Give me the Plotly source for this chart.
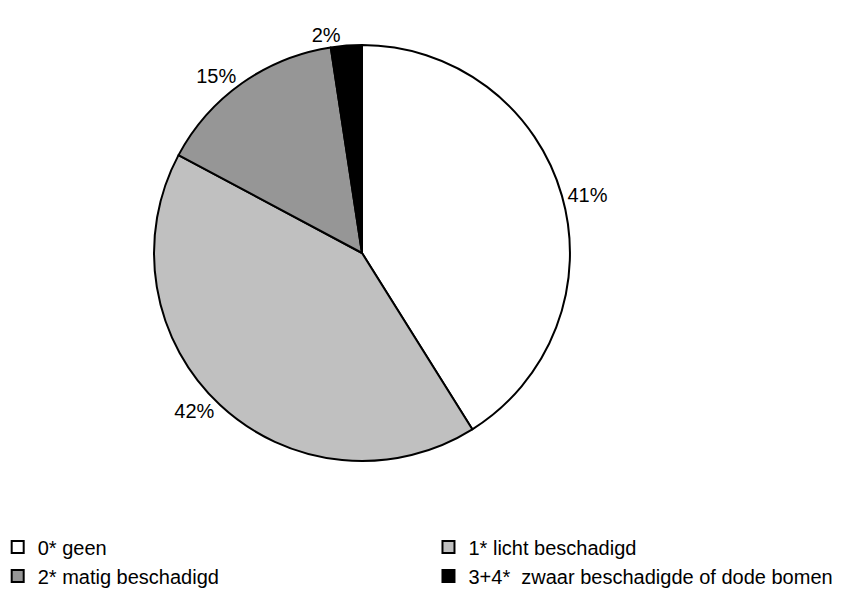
import plotly.graph_objects as go

# damage classes and their shares (%)
labels = ["0* geen", "1* licht beschadigd", "2* matig beschadigd", "3+4*  zwaar beschadigde of dode bomen"]
values = [41.1, 41.7, 14.8, 2.4]
colors = ["#FFFFFF", "#C0C0C0", "#969696", "#000000"]

fig = go.Figure()
fig.add_trace(go.Pie(
    labels=labels,
    values=values,
    sort=False,
    direction="clockwise",
    rotation=0,
    marker=dict(colors=colors, line=dict(color="black", width=2)),
    textinfo="percent",
    texttemplate="%{percent:.0%}",
    textposition="outside",
    textfont=dict(size=20, color="black"),
    domain=dict(x=[0.1700, 0.6542], y=[0.1221, 0.9283]),
    hoverinfo="label+percent",
))

fig.update_layout(
    width=859,
    height=596,
    # bottom margin keeps the legend below the plot area so it can use the full width
    margin=dict(l=0, r=0, t=0, b=80, autoexpand=False),
    paper_bgcolor="white",
    font=dict(family="Liberation Sans, Arial, sans-serif", size=20, color="black"),
    legend=dict(
        orientation="h",
        x=-0.012,
        y=-0.0068,
        xanchor="left",
        yanchor="top",
        entrywidthmode="fraction",
        entrywidth=0.5015,
        traceorder="normal",
        font=dict(size=20),
    ),
)

fig.write_html("out.html")
